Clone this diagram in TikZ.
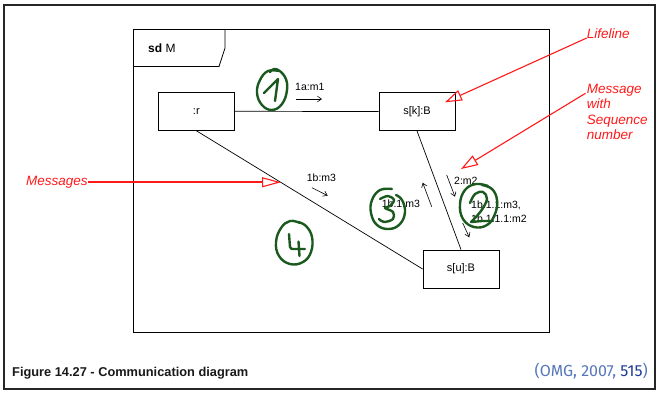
\documentclass[tikz,border=0pt]{standalone}
\usepackage{fontspec}
\setmainfont{Liberation Sans}
\newfontfamily\citefont{Fira Sans}
\usetikzlibrary{arrows.meta}
\definecolor{pen}{HTML}{1B5A1E}
\definecolor{note}{HTML}{FF1A1A}
\definecolor{citeblue}{HTML}{5577BB}
\definecolor{citedark}{HTML}{1C3A94}

\begin{document}
\begin{tikzpicture}[x=1pt,y=-1pt,
  obj/.style={draw, line width=0.8pt, minimum width=76pt, minimum height=38pt,
    inner sep=0pt, font=\fontsize{11}{13}\selectfont},
  link/.style={line width=0.7pt},
  msg/.style={anchor=base west, inner sep=0pt, font=\fontsize{10.5}{12.5}\selectfont, align=left},
  msgarrow/.style={line width=0.6pt, -{Straight Barb[length=4pt,width=5.5pt]}},
  hand/.style={draw=pen, line width=2.4pt, line cap=round, line join=round},
  remark/.style={anchor=base west, inner sep=0pt, text=note,
    font=\fontsize{13.5}{15.5}\selectfont\itshape, align=left},
  pointer/.style={draw=note, line width=1.1pt, -{Triangle[open,length=17pt,width=11pt]}},
]
\useasboundingbox (0,0) rectangle (659,392);
\fill[white] (0,0) rectangle (659,392);

% page frame
\draw[line width=2pt, draw=black!85] (3.5,5) rectangle (655,389);

% interaction frame with its name tab
\draw[line width=0.8pt] (133,29) rectangle (549,332);
\draw[line width=0.8pt] (133,66.5) -- (219,66.5) -- (225,48) -- (225,29);
\node[anchor=base west, inner sep=0pt, font=\fontsize{12}{14}\selectfont] (sdlabel) at (148,52) {\textbf{sd} M};

% lifelines
\node[obj] (r)  at (196.3,111.3) {:r};
\node[obj] (sk) at (417,111.5) {s[k]:B};
\node[obj] (su) at (461,269) {s[u]:B};

% links
\draw[link] (r.east) -- (sk.west);
\draw[link] (r.south) -- (su.west);
\draw[link] (sk.south) -- (su.north);

% messages
\node[msg] (m1a) at (295,90) {1a:m1};
\coordinate (m1as) at (296,99);  \coordinate (m1ae) at (322,99);
\draw[msgarrow] (m1as) -- (m1ae);

\node[msg] (m1b) at (306.7,181.5) {1b:m3};
\coordinate (m1bs) at (312,187.7);  \coordinate (m1be) at (327.7,195.7);
\draw[msgarrow] (m1bs) -- (m1be);

\node[msg] (m1b1) at (381.7,207.5) {1b.1:m3};
\coordinate (m1b1s) at (431.7,206.7);  \coordinate (m1b1e) at (422.7,182.7);
\draw[msgarrow] (m1b1s) -- (m1b1e);

\node[msg] (m2) at (454,184) {2:m2};
\coordinate (m2s) at (446.7,175);  \coordinate (m2e) at (455,196.7);
\draw[msgarrow] (m2s) -- (m2e);

\node[msg] (m1b11) at (471,208.5) {1b.1.1:m3,};
\node[msg] (m1b111) at (471,222) {1b.1.1.1:m2};
\coordinate (m1b11s) at (462.7,223);  \coordinate (m1b11e) at (469.3,237.3);
\draw[msgarrow] (m1b11s) -- (m1b11e);

% annotations
\node[remark] (lifeline) at (586.7,38) {Lifeline};
\coordinate (lifetip) at (445,102.3);
\draw[pointer] (lifeline.base west) -- (lifetip);

% the base of a multi-line node is the last line's baseline
\node[remark] (seqnote) at (586.7,139.5) {Message\\with\\Sequence\\number};
\coordinate (seqtail) at (585.5,93.3);
\coordinate (seqtip) at (461,169);
\draw[pointer] (seqtail) -- (seqtip);

\node[remark] (msgs) at (26,185.5) {Messages};
\coordinate (msgtip) at (281,183);
\draw[pointer, line width=1.9pt, -{Triangle[open,length=19pt,width=10pt,line width=1.1pt]}] (msgs.east) -- (msgs.east -| msgtip);

% hand-written step numbers
\draw[hand] plot[smooth, tension=0.7] coordinates {(279,71) (268,71) (260,80) (257,93) (262,105) (272,110) (282,104) (287,90) (285,77) (276,69) (270,72)};
\draw[hand] (264,93) -- (278,79) -- (275,101);

\draw[hand] plot[smooth, tension=0.7] coordinates {(488,186) (476,184) (465,190) (460,204) (463,219) (474,227) (487,225) (495,214) (497,200) (492,189) (482,185)};
\draw[hand] plot[smooth, tension=0.6] coordinates {(470,203) (475,194) (483,192) (487,199) (481,211) (471,222)} -- (482,221) -- (493,221);

\draw[hand] plot[smooth, tension=0.7] coordinates {(392,189) (380,190) (372,200) (371,213) (377,225) (389,229) (400,224) (405,212) (402,200) (396,195)};
\draw[hand] plot[smooth, tension=0.6] coordinates {(380,199) (388,196) (394,200) (390,206) (385,208) (393,212) (393,219) (384,222) (379,219)};

\draw[hand] plot[smooth, tension=0.7] coordinates {(300,223) (290,221) (281,228) (276,242) (279,256) (290,264) (303,262) (311,252) (312,237) (306,226) (298,222)};
\draw[hand] (289,234) -- (290,247) .. controls (291,249) .. (295,249) -- (305,249);
\draw[hand] (298.5,241.5) -- (299.5,256);

% caption and source
\node[anchor=base west, inner sep=0pt, text=black!90, font=\bfseries\fontsize{12.8}{14}\selectfont] (caption) at (12,376.5) {Figure 14.27 - Communication diagram};
\node[anchor=base east, inner sep=0pt, text=citeblue, font=\citefont\fontsize{16}{18}\selectfont] (cite) at (648,376) {(OMG, 2007, \textcolor{citedark}{515})};
\end{tikzpicture}
\end{document}
